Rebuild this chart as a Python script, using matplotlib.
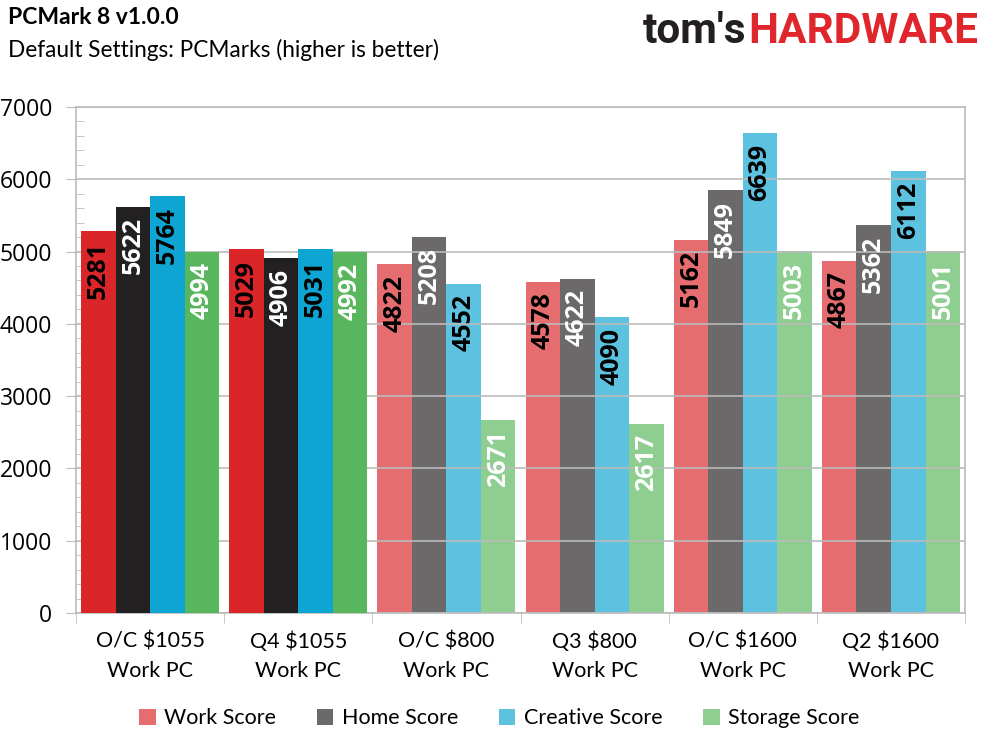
import matplotlib
matplotlib.use("Agg")
import matplotlib.pyplot as plt
import numpy as np
from matplotlib.patches import Patch

categories = ["O/C $1055\nWork PC", "Q4 $1055\nWork PC", "O/C $800\nWork PC",
              "Q3 $800\nWork PC", "O/C $1600\nWork PC", "Q2 $1600\nWork PC"]
series = ["Work Score", "Home Score", "Creative Score", "Storage Score"]
work = [5281, 5029, 4822, 4578, 5162, 4867]
home = [5622, 4906, 5208, 4622, 5849, 5362]
creative = [5764, 5031, 4552, 4090, 6639, 6112]
storage = [4994, 4992, 2671, 2617, 5003, 5001]
yticks = [0, 1000, 2000, 3000, 4000, 5000, 6000, 7000]

values = [work, home, creative, storage]
colors = ["#DA2529", "#222020", "#0EA5D2", "#58B75C"]
light_alpha = 0.67
label_colors = ["black", "white", "black", "white"]

fig = plt.figure(figsize=(9.89, 7.42), dpi=100)
ax = fig.add_axes([0.0768, 0.1739, 0.8990, 0.6819])

n = len(categories)
x = np.arange(n)
bw = 0.233
for si, (vals, col) in enumerate(zip(values, colors)):
    offs = (si - 1.5) * bw
    for gi in range(n):
        a = 1.0 if gi < 2 else light_alpha
        ax.bar(x[gi] + offs, vals[gi], width=bw, color=col, alpha=a,
               zorder=3 if gi < 2 else 1, linewidth=0)
        ax.annotate(f"{vals[gi]}", (x[gi] + offs, vals[gi]), xytext=(0, -7.5),
                    textcoords="offset points", rotation=90,
                    ha="center", va="top", color=label_colors[si],
                    fontsize=18, fontweight="bold", family="Open Sans", zorder=5)

ax.set_xlim(-0.5, n - 0.5)
ax.set_ylim(0, 7000)
ax.set_yticks(yticks)
ax.set_yticklabels([str(t) for t in yticks], family="Open Sans", fontsize=16.5)
ax.set_yticks(np.arange(0, 7001, 200), minor=True)
ax.tick_params(axis="y", which="major", direction="out", length=7, color="#BBBBBB", pad=10)
ax.tick_params(axis="y", which="minor", direction="in", length=6, color="#BBBBBB")
ax.yaxis.grid(True, which="major", color="#BBBBBB", linewidth=1.2, zorder=2)
ax.set_axisbelow(False)
for sp in ax.spines.values():
    sp.set_color("#BBBBBB")
    sp.set_linewidth(1.2)

ax.set_xticks(x)
ax.set_xticklabels(categories, family="Lato", fontsize=15.5, linespacing=1.62)
ax.tick_params(axis="x", which="major", length=0, pad=13)
ax.set_xticks(np.arange(-0.5, n, 1.0), minor=True)
ax.tick_params(axis="x", which="minor", direction="out", length=7, color="#BBBBBB")
ax.grid(False, axis="x")

handles = [Patch(facecolor=c, alpha=light_alpha, edgecolor="none") for c in colors]
fig.legend(handles, series, loc="center", bbox_to_anchor=(0.505, 0.032), ncol=4,
           frameon=False, prop={"family": "Lato", "size": 15.5},
           handlelength=0.75, handleheight=0.75, handletextpad=0.4, columnspacing=1.9)

fig.text(0.008, 0.976, "PCMark 8 v1.0.0", family="Lato", fontweight="bold",
         fontsize=16.5, ha="left", va="center")
fig.text(0.008, 0.933, "Default Settings: PCMarks (higher is better)", family="Lato",
         fontsize=16.3, ha="left", va="center")

t1 = fig.text(0.650, 0.957, "tom's", family="Roboto", fontweight="bold",
              fontsize=30.5, color="#231F20", ha="left", va="center")
fig.canvas.draw()
bb = t1.get_window_extent()
x1 = bb.x1 / fig.bbox.width
fig.text(x1 + 0.002, 0.957, "HARDWARE", family="Roboto", fontweight="bold",
         fontsize=30.5, color="#E0262D", ha="left", va="center")

fig.savefig("out.png", dpi=100)
